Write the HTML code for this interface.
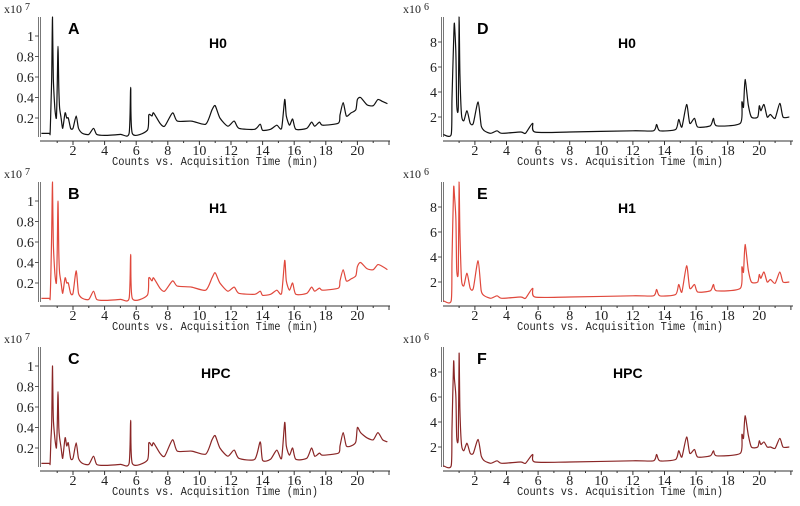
<!DOCTYPE html>
<html><head><meta charset="utf-8"><style>
html,body{margin:0;padding:0;background:#fff;}
svg{display:block;}
text{font-family:"Liberation Serif",serif;}
.mono{font-family:"Liberation Mono",monospace;}
.bold{font-family:"Liberation Sans",sans-serif;font-weight:bold;}
</style></head><body>
<svg id="chart" width="800" height="506" viewBox="0 0 800 506" xmlns="http://www.w3.org/2000/svg"></svg>
<script>
// Data: retention time (min) and counts
const timesA=[0.0,0.5,0.55,0.6,0.65,0.7,0.75,0.85,0.95,1.0,1.05,1.1,1.15,1.25,1.35,1.5,1.6,1.7,1.85,2.0,2.2,2.35,2.6,3.0,3.3,3.5,4.0,5.0,5.55,5.65,5.75,6.7,6.8,7.0,7.1,7.5,7.8,8.3,8.6,9.5,10.4,10.8,11.0,11.3,11.8,12.2,12.5,13.5,13.85,14.0,14.5,14.9,15.2,15.4,15.5,15.7,15.9,16.1,16.8,17.1,17.3,17.6,17.8,18.8,18.9,19.1,19.3,19.6,19.9,20.0,20.2,20.6,21.0,21.3,21.6,21.9];
const valuesA=[0.05,0.05,0.05,0.3,0.6,1.2,0.6,0.3,0.2,0.5,0.9,0.5,0.3,0.2,0.1,0.25,0.2,0.2,0.1,0.1,0.22,0.1,0.05,0.04,0.1,0.04,0.03,0.04,0.05,0.5,0.05,0.08,0.23,0.22,0.25,0.15,0.12,0.25,0.17,0.17,0.14,0.28,0.32,0.2,0.12,0.17,0.1,0.09,0.14,0.08,0.09,0.13,0.1,0.38,0.22,0.13,0.19,0.09,0.1,0.16,0.12,0.16,0.13,0.15,0.23,0.35,0.22,0.25,0.28,0.38,0.4,0.33,0.32,0.38,0.36,0.34];
const valuesB=[0.05,0.05,0.05,0.3,0.7,1.2,0.6,0.3,0.2,0.5,1.0,0.5,0.3,0.2,0.1,0.25,0.2,0.2,0.1,0.1,0.32,0.1,0.05,0.04,0.12,0.04,0.03,0.04,0.05,0.48,0.05,0.08,0.25,0.22,0.25,0.15,0.12,0.22,0.17,0.16,0.13,0.25,0.3,0.2,0.12,0.16,0.1,0.09,0.12,0.08,0.09,0.13,0.1,0.42,0.22,0.13,0.2,0.09,0.1,0.16,0.12,0.15,0.13,0.15,0.22,0.33,0.22,0.24,0.27,0.36,0.4,0.34,0.33,0.38,0.36,0.33];
const valuesC=[0.05,0.05,0.05,0.28,0.45,1.0,0.5,0.3,0.2,0.4,0.75,0.4,0.3,0.2,0.1,0.3,0.22,0.25,0.1,0.1,0.25,0.1,0.05,0.04,0.12,0.04,0.03,0.04,0.05,0.47,0.05,0.08,0.25,0.22,0.25,0.15,0.12,0.28,0.17,0.17,0.14,0.28,0.32,0.2,0.12,0.18,0.1,0.09,0.26,0.08,0.09,0.18,0.1,0.45,0.22,0.13,0.2,0.09,0.1,0.2,0.12,0.15,0.13,0.15,0.22,0.35,0.22,0.22,0.26,0.4,0.35,0.3,0.28,0.35,0.28,0.26];
const timesD=[0.0,0.5,0.55,0.65,0.7,0.8,0.85,0.95,1.0,1.05,1.15,1.3,1.5,1.7,1.9,2.2,2.4,2.6,3.0,3.4,3.7,4.9,5.2,5.65,5.8,8,12,13.3,13.5,13.7,14.7,14.9,15.1,15.4,15.6,15.9,16.1,16.9,17.1,17.3,18.8,18.9,19.0,19.1,19.3,19.5,19.9,20.0,20.1,20.3,20.5,20.7,21.0,21.3,21.5,21.9];
const valuesD=[0.6,0.6,3.5,8,9.5,7,3,2.8,10,5.5,2.2,1.7,2.5,1.5,1.5,3.2,1.3,0.9,0.7,0.9,0.7,0.8,0.7,1.5,0.8,0.8,0.9,0.9,1.4,0.9,1.0,1.8,1.2,3.0,1.5,1.9,1.2,1.3,1.9,1.3,1.5,3.2,2.8,5.0,3.0,2.0,2.0,2.9,2.5,3.0,2.0,2.2,1.9,3.1,2.0,2.0];
const valuesE=[0.5,0.5,3.8,9.5,9.0,7,3,2.9,10,6,2.2,1.7,2.7,1.5,1.5,3.7,1.3,0.9,0.7,0.9,0.7,0.8,0.7,1.5,0.8,0.8,0.9,0.9,1.4,0.9,1.0,1.8,1.2,3.3,1.5,1.8,1.2,1.3,1.8,1.3,1.5,3.2,2.8,5.0,3.0,2.0,2.0,2.6,2.3,2.8,2.0,2.2,1.9,2.8,2.0,2.0];
const valuesF=[0.5,0.5,3.5,8.8,7.5,6,2.8,2.8,9.5,5,2.2,1.7,2.3,1.5,1.5,2.6,1.3,0.9,0.7,0.9,0.7,0.8,0.7,1.4,0.8,0.8,0.9,0.9,1.4,0.9,1.0,1.7,1.2,2.8,1.5,1.8,1.2,1.3,1.7,1.3,1.5,3.0,2.7,4.5,3.0,2.0,2.0,2.5,2.2,2.4,2.0,2.0,1.9,2.7,2.0,2.0];
const xTicks=[2,4,6,8,10,12,14,16,18,20];
const yTicksLeft=[0.2,0.4,0.6,0.8,1];
const yTickLabelsLeft=["0.2","0.4","0.6","0.8","1"];
const yTicksRight=[2,4,6,8];
const yTickLabelsRight=["2","4","6","8"];

const NS="http://www.w3.org/2000/svg";
const svg=document.getElementById('chart');
function mk(tag,attrs,parent){const e=document.createElementNS(NS,tag);for(const k in attrs)e.setAttribute(k,attrs[k]);(parent||svg).appendChild(e);return e;}

const panels=[
 {id:'a',letter:'A',name:'H0',times:timesA,vals:valuesA,color:'#111',left:true,oy:0,exp:'7'},
 {id:'b',letter:'B',name:'H1',times:timesA,vals:valuesB,color:'#e0483c',left:true,oy:165,exp:'7'},
 {id:'c',letter:'C',name:'HPC',times:timesA,vals:valuesC,color:'#8a2626',left:true,oy:330,exp:'7'},
 {id:'d',letter:'D',name:'H0',times:timesD,vals:valuesD,color:'#111',left:false,oy:0,exp:'6'},
 {id:'e',letter:'E',name:'H1',times:timesD,vals:valuesE,color:'#e0483c',left:false,oy:165,exp:'6'},
 {id:'f',letter:'F',name:'HPC',times:timesD,vals:valuesF,color:'#8a2626',left:false,oy:330,exp:'6'}
];

panels.forEach(p=>{
 const g=mk('g',{});
 
 
 const ax0=p.left?40:443, x0=p.left?41.4:443.3, ppm=15.8, xEnd=p.left?390:793;
 const yBase=p.oy+(p.left?138.5:142), ppu=p.left?102.5:12.5, yTop=p.oy+17, xAxisY=p.oy+141;
 const X=t=>x0+t*ppm, Y=v=>Math.max(yTop,yBase-v*ppu);
 const ex=mk('text',{x:p.left?4:403,y:p.oy+13,'font-size':12,fill:'#222'},g);
 ex.textContent='x10 ';
 
 
 const sup=mk('tspan',{dy:-3,'font-size':10},ex);sup.textContent=p.exp;
 const ya=mk('path',{d:`M${ax0-1.5},${yTop} V${xAxisY-4} M${ax0+0.5},${yTop} V${xAxisY-4}`,stroke:'#777','stroke-width':1,fill:'none'},g);
 
 
 const xa=mk('line',{x1:ax0,x2:xEnd,y1:xAxisY,y2:xAxisY,stroke:'#333','stroke-width':1},g);
 
 
 for(let t=1;t<=22;t++){
  const tk=mk('line',{x1:X(t),x2:X(t),y1:xAxisY,y2:xAxisY+(t%2===0?4:2),stroke:'#333'},g);
  
  
 }
 xTicks.forEach(t=>{
  const tl=mk('text',{x:X(t),y:xAxisY+14,'font-size':14,'text-anchor':'middle',fill:'#222'},g);
  tl.textContent=String(t);
  
  
 });
 const yt=p.left?yTicksLeft:yTicksRight, yl=p.left?yTickLabelsLeft:yTickLabelsRight;
 yt.forEach((v,i)=>{
  const tk=mk('line',{x1:ax0-5,x2:ax0-1,y1:Y(v),y2:Y(v),stroke:'#555'},g);
  
  
  const tl=mk('text',{x:ax0-6,y:Y(v)+5,'font-size':14,'text-anchor':'end',fill:'#222'},g);
  tl.textContent=yl[i];
  
  
 });
 const xt=mk('text',{x:(p.left?215:620),y:xAxisY+24,'font-size':12,'text-anchor':'middle',fill:'#222',class:'mono',textLength:206,lengthAdjust:'spacingAndGlyphs'},g);
 xt.textContent='Counts vs. Acquisition Time (min)';
 
 
 // trace with light Catmull-Rom smoothing
 const pts=p.times.map((t,i)=>[X(t),Y(p.vals[i])]);
 let d='M'+pts[0][0].toFixed(1)+','+pts[0][1].toFixed(1);
 for(let i=0;i<pts.length-1;i++){
  const p0=pts[Math.max(0,i-1)],p1=pts[i],p2=pts[i+1],p3=pts[Math.min(pts.length-1,i+2)];
  const k=0.12;
  const c1=[p1[0]+(p2[0]-p0[0])*k,p1[1]+(p2[1]-p0[1])*k];
  const c2=[p2[0]-(p3[0]-p1[0])*k,p2[1]-(p3[1]-p1[1])*k];
  c1[1]=Math.max(yTop,c1[1]);c2[1]=Math.max(yTop,c2[1]);
  d+=`C${c1[0].toFixed(1)},${c1[1].toFixed(1)} ${c2[0].toFixed(1)},${c2[1].toFixed(1)} ${p2[0].toFixed(1)},${p2[1].toFixed(1)}`;
 }
 const tr=mk('path',{d:d,stroke:p.color,'stroke-width':1.2,fill:'none','stroke-linejoin':'round'},g);
 
 
 const lt=mk('text',{x:p.left?68:477,y:p.oy+34,'font-size':16,fill:'#000',class:'bold'},g);
 lt.textContent=p.letter;
 
 
 const nm=mk('text',{x:p.left?(p.name==='HPC'?201:209):(p.name==='HPC'?613:618),y:p.oy+48,'font-size':14,fill:'#000',class:'bold'},g);
 nm.textContent=p.name;
 
 
});
</script>
</body></html>
